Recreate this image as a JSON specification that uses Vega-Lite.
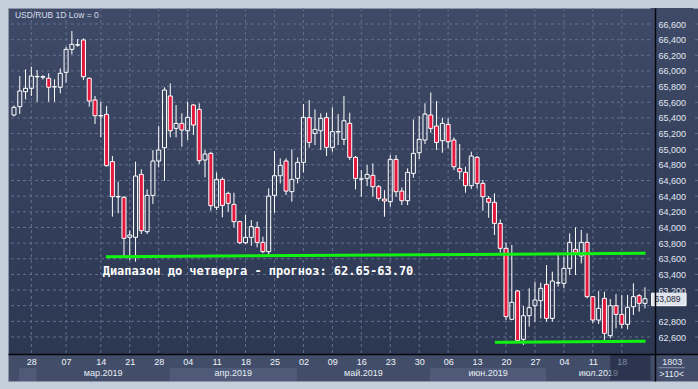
{
  "$schema": "https://vega.github.io/schema/vega-lite/v6.json",
  "width": 690,
  "height": 373,
  "autosize": {"type": "none"},
  "padding": {"left": 8, "top": 8, "right": 0, "bottom": 8},
  "background": "#c5cedb",
  "config": {
    "view": {
      "fill": {"gradient": "linear", "x1": 0, "y1": 0, "x2": 0, "y2": 1,
        "stops": [
          {"offset": 0, "color": "#3e4a67"},
          {"offset": 0.9276, "color": "#2c3752"},
          {"offset": 0.9277, "color": "#414d69"},
          {"offset": 1, "color": "#414d69"}
        ]},
      "stroke": "#8a94a6",
      "strokeWidth": 1
    },
    "axis": {"labelOverlap": false, "grid": false, "ticks": false},
    "font": "Liberation Sans"
  },
  "resolve": {"axis": {"x": "independent", "y": "independent"}},
  "datasets": {
    "c": [
      {"k":1,"o":65437,"h":65560,"l":65420,"c":65535},
      {"k":2,"o":65544,"h":65935,"l":65450,"c":65744},
      {"k":3,"o":65735,"h":66021,"l":65637,"c":65778},
      {"k":4,"o":65778,"h":66055,"l":65680,"c":65935},
      {"k":5,"o":65925,"h":66010,"l":65607,"c":65930},
      {"k":6,"o":65920,"h":65945,"l":65890,"c":65927},
      {"k":7,"o":65906,"h":65970,"l":65607,"c":65791},
      {"k":8,"o":65795,"h":65893,"l":65607,"c":65800},
      {"k":9,"o":65791,"h":66033,"l":65714,"c":65970},
      {"k":10,"o":65982,"h":66310,"l":65850,"c":66276},
      {"k":11,"o":66276,"h":66510,"l":66212,"c":66340},
      {"k":12,"o":66330,"h":66408,"l":66310,"c":66335},
      {"k":13,"o":66396,"h":66417,"l":65884,"c":65927},
      {"k":14,"o":65906,"h":65918,"l":65544,"c":65616},
      {"k":15,"o":65629,"h":65680,"l":65322,"c":65428},
      {"k":16,"o":65430,"h":65607,"l":65152,"c":65425},
      {"k":17,"o":65446,"h":65552,"l":64777,"c":64790},
      {"k":18,"o":64841,"h":64913,"l":64138,"c":64393},
      {"k":19,"o":64390,"h":64585,"l":64180,"c":64395},
      {"k":20,"o":64385,"h":64402,"l":63618,"c":63861},
      {"k":21,"o":63874,"h":63959,"l":63584,"c":63903},
      {"k":22,"o":63874,"h":64841,"l":63562,"c":64657},
      {"k":23,"o":64678,"h":64742,"l":63916,"c":63958},
      {"k":24,"o":63946,"h":64487,"l":63916,"c":64410},
      {"k":25,"o":64410,"h":64989,"l":64299,"c":64849},
      {"k":26,"o":64849,"h":65296,"l":64768,"c":64989},
      {"k":27,"o":65019,"h":65790,"l":64597,"c":65756},
      {"k":28,"o":65680,"h":65841,"l":65151,"c":65236},
      {"k":29,"o":65266,"h":65565,"l":65151,"c":65330},
      {"k":30,"o":65330,"h":65458,"l":65032,"c":65245},
      {"k":31,"o":65236,"h":65607,"l":65117,"c":65407},
      {"k":32,"o":65565,"h":65577,"l":65181,"c":65309},
      {"k":33,"o":65509,"h":65586,"l":64810,"c":64853},
      {"k":34,"o":64862,"h":64989,"l":64640,"c":64938},
      {"k":35,"o":64947,"h":64968,"l":64214,"c":64278},
      {"k":36,"o":64257,"h":64704,"l":64223,"c":64614},
      {"k":37,"o":64614,"h":64640,"l":64129,"c":64282},
      {"k":38,"o":64436,"h":64457,"l":64201,"c":64308},
      {"k":39,"o":64295,"h":64444,"l":64001,"c":64074},
      {"k":40,"o":64074,"h":64086,"l":63788,"c":63805},
      {"k":41,"o":63805,"h":64159,"l":63788,"c":63873},
      {"k":42,"o":63873,"h":64095,"l":63767,"c":64010},
      {"k":43,"o":64001,"h":64074,"l":63746,"c":63809},
      {"k":44,"o":63809,"h":63882,"l":63669,"c":63691},
      {"k":45,"o":63690,"h":64500,"l":63648,"c":64401},
      {"k":46,"o":64410,"h":64977,"l":64189,"c":64661},
      {"k":47,"o":64661,"h":64883,"l":64563,"c":64793},
      {"k":48,"o":64849,"h":64883,"l":64414,"c":64465},
      {"k":49,"o":64457,"h":64998,"l":64329,"c":64614},
      {"k":50,"o":64627,"h":64896,"l":64563,"c":64832},
      {"k":51,"o":64832,"h":65577,"l":64704,"c":65407},
      {"k":52,"o":65403,"h":65628,"l":65019,"c":65087},
      {"k":53,"o":65202,"h":65509,"l":65053,"c":65253},
      {"k":54,"o":65236,"h":65458,"l":64989,"c":65394},
      {"k":55,"o":65403,"h":65467,"l":64913,"c":65023},
      {"k":56,"o":65023,"h":65535,"l":64968,"c":65224},
      {"k":57,"o":65220,"h":65449,"l":65053,"c":65226},
      {"k":58,"o":65126,"h":65680,"l":65053,"c":65364},
      {"k":59,"o":65330,"h":65467,"l":64862,"c":64896},
      {"k":60,"o":64896,"h":64913,"l":64487,"c":64627},
      {"k":61,"o":64620,"h":64734,"l":64393,"c":64618},
      {"k":62,"o":64627,"h":64798,"l":64529,"c":64678},
      {"k":63,"o":64666,"h":64819,"l":64393,"c":64521},
      {"k":64,"o":64521,"h":64542,"l":64342,"c":64372},
      {"k":65,"o":64363,"h":64478,"l":64137,"c":64338},
      {"k":66,"o":64329,"h":64926,"l":64265,"c":64870},
      {"k":67,"o":64870,"h":64926,"l":64393,"c":64457},
      {"k":68,"o":64465,"h":64512,"l":64286,"c":64342},
      {"k":69,"o":64342,"h":64755,"l":64286,"c":64704},
      {"k":70,"o":64691,"h":65381,"l":64636,"c":64947},
      {"k":71,"o":64955,"h":65424,"l":64874,"c":65126},
      {"k":72,"o":65117,"h":65586,"l":65066,"c":65449},
      {"k":73,"o":65437,"h":65726,"l":65211,"c":65266},
      {"k":74,"o":65296,"h":65616,"l":64989,"c":65087},
      {"k":75,"o":65109,"h":65403,"l":64955,"c":65330},
      {"k":76,"o":65317,"h":65394,"l":65011,"c":65096},
      {"k":77,"o":65117,"h":65151,"l":64734,"c":64776},
      {"k":78,"o":64755,"h":65066,"l":64614,"c":64712},
      {"k":79,"o":64704,"h":64776,"l":64444,"c":64534},
      {"k":80,"o":64534,"h":64968,"l":64491,"c":64913},
      {"k":81,"o":64896,"h":64913,"l":64499,"c":64563},
      {"k":82,"o":64563,"h":64606,"l":64214,"c":64393},
      {"k":83,"o":64372,"h":64402,"l":64125,"c":64321},
      {"k":84,"o":64321,"h":64436,"l":63903,"c":64052},
      {"k":85,"o":64052,"h":64103,"l":63677,"c":63733},
      {"k":86,"o":63733,"h":63805,"l":62817,"c":62860},
      {"k":87,"o":62826,"h":63776,"l":62817,"c":63043},
      {"k":88,"o":63188,"h":63200,"l":62540,"c":62553},
      {"k":89,"o":62570,"h":62996,"l":62498,"c":62872},
      {"k":90,"o":62872,"h":63222,"l":62732,"c":62975},
      {"k":91,"o":63000,"h":63307,"l":62796,"c":63073},
      {"k":92,"o":63064,"h":63294,"l":62838,"c":63222},
      {"k":93,"o":63273,"h":63520,"l":62796,"c":62838},
      {"k":94,"o":62838,"h":63435,"l":62796,"c":63315},
      {"k":95,"o":63290,"h":63648,"l":63243,"c":63294},
      {"k":96,"o":63286,"h":63626,"l":63222,"c":63477},
      {"k":97,"o":63477,"h":63925,"l":63392,"c":63810},
      {"k":98,"o":63720,"h":64001,"l":63392,"c":63682},
      {"k":99,"o":63635,"h":63967,"l":63541,"c":63810},
      {"k":100,"o":63810,"h":63925,"l":63094,"c":63115},
      {"k":101,"o":63115,"h":63124,"l":62774,"c":62817},
      {"k":102,"o":62817,"h":63188,"l":62766,"c":62966},
      {"k":103,"o":63094,"h":63179,"l":62561,"c":62647},
      {"k":104,"o":62617,"h":63085,"l":62583,"c":63000},
      {"k":105,"o":63000,"h":63149,"l":62711,"c":62889},
      {"k":106,"o":62889,"h":63137,"l":62711,"c":62762},
      {"k":107,"o":62762,"h":63137,"l":62698,"c":62979},
      {"k":108,"o":62987,"h":63286,"l":62881,"c":63115},
      {"k":109,"o":63128,"h":63149,"l":62924,"c":63030},
      {"k":110,"o":63030,"h":63235,"l":62966,"c":63089}
    ],
    "hgrid": [
      {"v":62600},{"v":62800},{"v":63000},{"v":63200},{"v":63400},{"v":63600},{"v":63800},
      {"v":64000},{"v":64200},{"v":64400},{"v":64600},{"v":64800},{"v":65000},{"v":65200},
      {"v":65400},{"v":65600},{"v":65800},{"v":66000},{"v":66200},{"v":66400},{"v":66600}
    ],
    "vgrid": [
      {"k":4},{"k":10},{"k":16},{"k":21},{"k":26},{"k":31},{"k":36},{"k":41},{"k":46},{"k":51},
      {"k":56},{"k":61},{"k":66},{"k":71},{"k":76},{"k":81},{"k":86},{"k":91},{"k":96},{"k":101},{"k":106}
    ],
    "bands": [
      {"k0":1.85,"k1":4.91},
      {"k0":27.9,"k1":49.9},
      {"k0":72.84,"k1":92.93}
    ],
    "months": [
      {"m":"мар.2019","k":16.41},
      {"m":"апр.2019","k":38.88},
      {"m":"май.2019","k":61.35},
      {"m":"июн.2019","k":82.89},
      {"m":"июл.2019","k":101.95}
    ],
    "green": [
      {"id":"up","k":16.88,"v":63626},
      {"id":"up","k":110.1,"v":63670},
      {"id":"low","k":84.08,"v":62532},
      {"id":"low","k":110.1,"v":62545}
    ]
  },
  "layer": [
    {
      "data": {"name": "hgrid"},
      "mark": {"type": "rule", "stroke": "#63708e", "strokeWidth": 1, "strokeDash": [3, 3]},
      "encoding": {
        "y": {"field": "v", "type": "quantitative",
          "scale": {"domain": [62037.7, 66804.5], "nice": false, "zero": false},
          "axis": {"orient": "right", "offset": -43, "title": null, "grid": false, "ticks": false, "zindex": 1,
            "labelOverlap": false,
            "values": [62600, 62800, 63200, 63400, 63600, 63800, 64000, 64200, 64400, 64600, 64800, 65000, 65200, 65400, 65600, 65800, 66000, 66200, 66400, 66600],
            "format": ",d", "labelFont": "Liberation Sans", "labelFontSize": 9, "labelColor": "#e1e7f1",
            "labelPadding": 3, "labelAlign": "left", "labelBaseline": "middle",
            "domainColor": "#05080f", "domainWidth": 1.5}}
      }
    },
    {
      "data": {"name": "vgrid"},
      "mark": {"type": "rule", "stroke": "#63708e", "strokeWidth": 1, "strokeDash": [3, 3]},
      "encoding": {
        "x": {"field": "k", "type": "quantitative",
          "scale": {"domain": [0.83, 118.3], "nice": false, "zero": false},
          "axis": {"orient": "bottom", "offset": -27, "title": null, "grid": false, "ticks": false, "zindex": 1,
            "values": [4, 10, 16, 21, 26, 31, 36, 41, 46, 51, 56, 61, 66, 71, 76, 81, 86, 91, 96, 101, 106],
            "labelExpr": "['28','07','14','21','28','04','11','18','25','02','09','16','23','30','06','13','20','27','04','11','18'][indexof([4,10,16,21,26,31,36,41,46,51,56,61,66,71,76,81,86,91,96,101,106], datum.value)]",
            "labelFont": "Liberation Sans", "labelFontSize": 9,
            "labelColor": {"condition": {"test": "datum.value == 106", "value": "#7f8aa0"}, "value": "#f0f4fa"},
            "labelPadding": 3, "labelOverlap": false, "labelFlush": false,
            "domainColor": "#05080f", "domainWidth": 1.5}}
      }
    },
    {
      "data": {"values": [{"k0": 0.83, "k1": 118.3, "v0": 62037.7, "v1": 62383}]},
      "mark": {"type": "rect", "fill": "#414d69"},
      "encoding": {
        "x": {"field": "k0", "type": "quantitative", "axis": null},
        "x2": {"field": "k1"},
        "y": {"field": "v0", "type": "quantitative", "axis": null},
        "y2": {"field": "v1"}
      }
    },
    {
      "data": {"values": [{"k0": 110.97, "k1": 118.3, "v0": 62383, "v1": 66804.5}]},
      "mark": {"type": "rect", "fill": {"gradient": "linear", "x1": 0, "y1": 0, "x2": 0, "y2": 1,
        "stops": [{"offset": 0, "color": "#3e4a67"}, {"offset": 1, "color": "#2c3752"}]}},
      "encoding": {
        "x": {"field": "k0", "type": "quantitative", "axis": null},
        "x2": {"field": "k1"},
        "y": {"field": "v0", "type": "quantitative", "axis": null},
        "y2": {"field": "v1"}
      }
    },
    {
      "data": {"name": "bands"},
      "mark": {"type": "rect", "fill": "#4e5a77"},
      "encoding": {
        "x": {"field": "k0", "type": "quantitative", "axis": null},
        "x2": {"field": "k1"},
        "y": {"datum": 62203.8, "type": "quantitative", "axis": null},
        "y2": {"datum": 62037.7}
      }
    },
    {
      "data": {"name": "c"},
      "transform": [{"filter": "datum.c < datum.o"}],
      "mark": {"type": "rule", "stroke": "#ffffff", "strokeWidth": 1, "clip": true},
      "encoding": {
        "x": {"field": "k", "type": "quantitative", "axis": null},
        "y": {"field": "h", "type": "quantitative", "axis": null},
        "y2": {"field": "l"}
      }
    },
    {
      "data": {"name": "c"},
      "transform": [{"filter": "datum.c >= datum.o"}],
      "mark": {"type": "rule", "stroke": "#ffffff", "strokeWidth": 1, "clip": true},
      "encoding": {
        "x": {"field": "k", "type": "quantitative", "axis": null},
        "y": {"field": "h", "type": "quantitative", "axis": null},
        "y2": {"field": "c"}
      }
    },
    {
      "data": {"name": "c"},
      "transform": [{"filter": "datum.c >= datum.o"}],
      "mark": {"type": "rule", "stroke": "#ffffff", "strokeWidth": 1, "clip": true},
      "encoding": {
        "x": {"field": "k", "type": "quantitative", "axis": null},
        "y": {"field": "o", "type": "quantitative", "axis": null},
        "y2": {"field": "l"}
      }
    },
    {
      "data": {"name": "c"},
      "mark": {"type": "bar", "size": 4, "stroke": "#ffffff", "strokeWidth": 1, "clip": true},
      "encoding": {
        "x": {"field": "k", "type": "quantitative", "axis": null},
        "y": {"field": "o", "type": "quantitative", "axis": null},
        "y2": {"field": "c"},
        "fill": {"condition": {"test": "datum.c < datum.o", "value": "#e4173d"}, "value": "transparent"}
      }
    },
    {
      "data": {"name": "green"},
      "mark": {"type": "line", "stroke": "#12f212", "strokeWidth": 3, "strokeCap": "butt"},
      "encoding": {
        "x": {"field": "k", "type": "quantitative", "axis": null},
        "y": {"field": "v", "type": "quantitative", "axis": null},
        "detail": {"field": "id"}
      }
    },
    {
      "data": {"values": [{"t": "Диапазон до четверга - прогноз: 62.65-63.70", "k": 16.32, "v": 63392}]},
      "mark": {"type": "text", "font": "DejaVu Sans Mono", "fontSize": 12, "fontWeight": "bold", "color": "#ffffff", "align": "left", "baseline": "alphabetic"},
      "encoding": {
        "x": {"field": "k", "type": "quantitative", "axis": null},
        "y": {"field": "v", "type": "quantitative", "axis": null},
        "text": {"field": "t"}
      }
    },
    {
      "data": {"values": [{"t": "USD/RUB 1D Low = 0", "k": 1.17, "v": 66715}]},
      "mark": {"type": "text", "font": "Liberation Sans", "fontSize": 8.5, "color": "#d6deec", "align": "left", "baseline": "middle"},
      "encoding": {
        "x": {"field": "k", "type": "quantitative", "axis": null},
        "y": {"field": "v", "type": "quantitative", "axis": null},
        "text": {"field": "t"}
      }
    },
    {
      "data": {"name": "months"},
      "mark": {"type": "text", "font": "Liberation Sans", "fontSize": 9, "color": "#e8eef6", "align": "center", "baseline": "middle"},
      "encoding": {
        "x": {"field": "k", "type": "quantitative", "axis": null},
        "y": {"datum": 62135, "type": "quantitative", "axis": null},
        "text": {"field": "m"}
      }
    },
    {
      "data": {"values": [{"k0": 111.15, "k1": 117.1, "v0": 63000, "v1": 63160}]},
      "mark": {"type": "rect", "fill": "#dfe4ec", "stroke": "#ffffff", "strokeWidth": 1},
      "encoding": {
        "x": {"field": "k0", "type": "quantitative", "axis": null},
        "x2": {"field": "k1"},
        "y": {"field": "v0", "type": "quantitative", "axis": null},
        "y2": {"field": "v1"}
      }
    },
    {
      "data": {"values": [{"t": "63,089", "k": 111.65, "v": 63080}]},
      "mark": {"type": "text", "font": "Liberation Sans", "fontSize": 8.5, "color": "#1c2336", "align": "left", "baseline": "middle"},
      "encoding": {
        "x": {"field": "k", "type": "quantitative", "axis": null},
        "y": {"field": "v", "type": "quantitative", "axis": null},
        "text": {"field": "t"}
      }
    },
    {
      "data": {"values": [{"t": "1803", "k": 114.72, "v": 62284}, {"t": ">110<", "k": 114.6, "v": 62127}]},
      "mark": {"type": "text", "font": "Liberation Sans", "fontSize": 9, "color": "#e6ecf4", "align": "center", "baseline": "middle"},
      "encoding": {
        "x": {"field": "k", "type": "quantitative", "axis": null},
        "y": {"field": "v", "type": "quantitative", "axis": null},
        "text": {"field": "t"}
      }
    },
    {
      "data": {"values": [{"k0": 112.34, "k1": 116.93, "v": 62207}]},
      "mark": {"type": "rule", "stroke": "#8d99ae", "strokeWidth": 1},
      "encoding": {
        "x": {"field": "k0", "type": "quantitative", "axis": null},
        "x2": {"field": "k1"},
        "y": {"field": "v", "type": "quantitative", "axis": null}
      }
    },
    {
      "data": {"values": [{"k0": 104.0, "k1": 110.97, "v0": 62050, "v1": 62370}]},
      "mark": {"type": "rect", "fill": "#1e2740", "opacity": 0.6},
      "encoding": {
        "x": {"field": "k0", "type": "quantitative", "axis": null},
        "x2": {"field": "k1"},
        "y": {"field": "v0", "type": "quantitative", "axis": null},
        "y2": {"field": "v1"}
      }
    }
  ]
}
